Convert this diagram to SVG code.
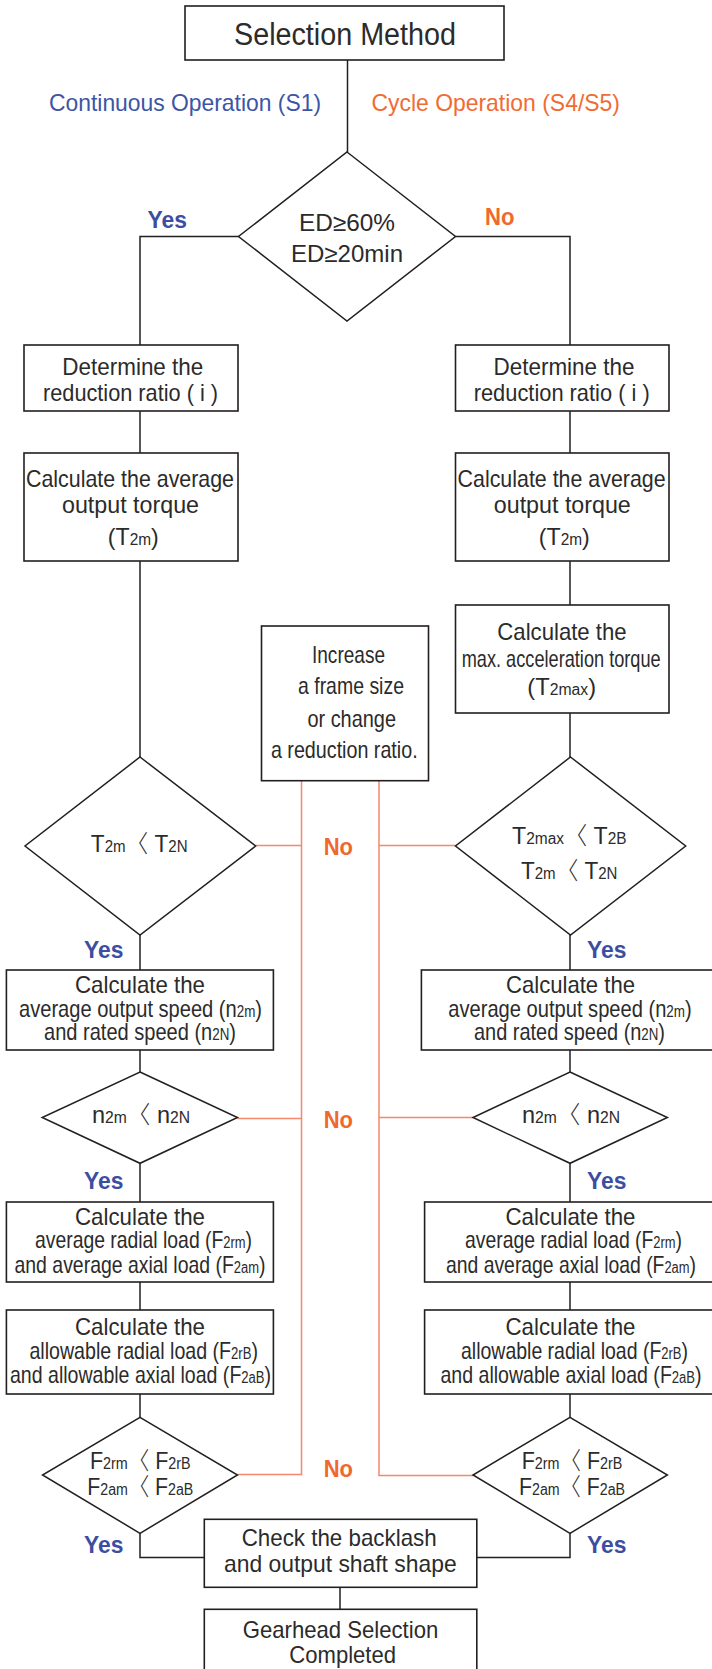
<svg xmlns="http://www.w3.org/2000/svg" width="712" height="1669" viewBox="0 0 712 1669">
<style>
.bg{fill:#ffffff}
.box{fill:#ffffff;stroke:#231f20;stroke-width:1.6}
.dia{fill:#ffffff;stroke:#231f20;stroke-width:1.5}
.ln{fill:none;stroke:#231f20;stroke-width:1.5}
.or{fill:none;stroke:#f4896c;stroke-width:1.5}
.t{font-family:"Liberation Sans",Arial,sans-serif;font-size:24px;fill:#2b2b2b;text-anchor:middle}
.s{font-size:16px}
.br{font-family:"Noto Sans CJK KR","Liberation Sans",sans-serif;font-weight:300}
.yes{font-family:"Liberation Sans",Arial,sans-serif;font-weight:bold;font-size:23px;fill:#3b4ea1;text-anchor:middle}
.no{font-family:"Liberation Sans",Arial,sans-serif;font-weight:bold;font-size:23px;fill:#ef692d;text-anchor:middle}
.hb{font-family:"Liberation Sans",Arial,sans-serif;font-size:24px;fill:#3d55a5;text-anchor:middle}
.ho{font-family:"Liberation Sans",Arial,sans-serif;font-size:24px;fill:#f06c33;text-anchor:middle}
</style>
<rect class="bg" x="0" y="0" width="712" height="1669"/>

<g id="connectors">
  <polyline class="ln" points="347.5,60 347.5,152"/>
  <polyline class="ln" points="238.5,236.5 140,236.5 140,345"/>
  <polyline class="ln" points="455.5,236.5 570,236.5 570,345"/>
  <polyline class="ln" points="140,411 140,453"/>
  <polyline class="ln" points="140,561 140,757"/>
  <polyline class="ln" points="140,935 140,970"/>
  <polyline class="ln" points="140,1050 140,1072"/>
  <polyline class="ln" points="140,1163 140,1202"/>
  <polyline class="ln" points="140,1282 140,1310"/>
  <polyline class="ln" points="140,1394 140,1417"/>
  <polyline class="ln" points="140,1533 140,1557.5 204.3,1557.5"/>
  <polyline class="ln" points="570,411 570,453"/>
  <polyline class="ln" points="570,561 570,605"/>
  <polyline class="ln" points="570,713 570,757"/>
  <polyline class="ln" points="570,935 570,970"/>
  <polyline class="ln" points="570,1050 570,1072"/>
  <polyline class="ln" points="570,1163 570,1202"/>
  <polyline class="ln" points="570,1282 570,1310"/>
  <polyline class="ln" points="570,1394 570,1417"/>
  <polyline class="ln" points="570,1533 570,1557.5 476.8,1557.5"/>
  <polyline class="ln" points="340,1587.3 340,1609.3"/>
  <polyline class="or" points="301.5,780.7 301.5,1474.5 237.5,1474.5"/>
  <polyline class="or" points="255.6,845.5 301.5,845.5"/>
  <polyline class="or" points="237.5,1118.5 301.5,1118.5"/>
  <polyline class="or" points="379,780.7 379,1475.5 473,1475.5"/>
  <polyline class="or" points="379,845.5 455.5,845.5"/>
  <polyline class="or" points="379,1117.5 473,1117.5"/>
</g>

<g id="title">
  <rect class="box" x="185" y="6" width="319" height="54"/>
  <text class="t" x="345" y="45" textLength="222" lengthAdjust="spacingAndGlyphs" style="font-size:31px">Selection Method</text>
</g>
<g id="header-continuous"><text class="hb" x="185" y="111" textLength="272" lengthAdjust="spacingAndGlyphs">Continuous Operation (S1)</text></g>
<g id="header-cycle"><text class="ho" x="495.7" y="111" textLength="248.5" lengthAdjust="spacingAndGlyphs">Cycle Operation (S4/S5)</text></g>

<g id="d-ed">
  <polygon class="dia" points="347,152 455.5,236.5 347,321 238.5,236.5"/>
  <text class="t" x="347" y="230.7" textLength="96" lengthAdjust="spacingAndGlyphs">ED≥60%</text>
  <text class="t" x="347" y="262" textLength="112" lengthAdjust="spacingAndGlyphs">ED≥20min</text>
</g>
<g id="lbl-yes-1"><text class="yes" x="167.3" y="228" textLength="39.4" lengthAdjust="spacingAndGlyphs">Yes</text></g>
<g id="lbl-no-1"><text class="no" x="499.7" y="225" textLength="29.5" lengthAdjust="spacingAndGlyphs">No</text></g>

<g id="l-ratio">
  <rect class="box" x="24" y="345" width="214" height="66"/>
  <text class="t" x="132.8" y="375" textLength="141" lengthAdjust="spacingAndGlyphs">Determine the</text>
  <text class="t" x="130.5" y="401" textLength="175" lengthAdjust="spacingAndGlyphs">reduction ratio ( i )</text>
</g>
<g id="r-ratio">
  <rect class="box" x="455.5" y="345" width="213.5" height="66"/>
  <text class="t" x="564" y="375" textLength="141" lengthAdjust="spacingAndGlyphs">Determine the</text>
  <text class="t" x="561.7" y="401" textLength="176" lengthAdjust="spacingAndGlyphs">reduction ratio ( i )</text>
</g>
<g id="l-torque">
  <rect class="box" x="24" y="453" width="214" height="108"/>
  <text class="t" x="130" y="486.7" textLength="208" lengthAdjust="spacingAndGlyphs">Calculate the average</text>
  <text class="t" x="130.5" y="513" textLength="137" lengthAdjust="spacingAndGlyphs">output torque</text>
  <text class="t" x="133.3" y="545" textLength="51" lengthAdjust="spacingAndGlyphs">(T<tspan class="s">2m</tspan>)</text>
</g>
<g id="r-torque">
  <rect class="box" x="455.5" y="453" width="213.5" height="108"/>
  <text class="t" x="561.6" y="486.7" textLength="208" lengthAdjust="spacingAndGlyphs">Calculate the average</text>
  <text class="t" x="562.3" y="513" textLength="137" lengthAdjust="spacingAndGlyphs">output torque</text>
  <text class="t" x="564.3" y="545" textLength="51" lengthAdjust="spacingAndGlyphs">(T<tspan class="s">2m</tspan>)</text>
</g>
<g id="r-max">
  <rect class="box" x="455.5" y="605" width="213.5" height="108"/>
  <text class="t" x="562" y="640" textLength="129.3" lengthAdjust="spacingAndGlyphs">Calculate the</text>
  <text class="t" x="561.2" y="667.3" textLength="199" lengthAdjust="spacingAndGlyphs">max. acceleration torque</text>
  <text class="t" x="561.7" y="695" textLength="68.7" lengthAdjust="spacingAndGlyphs">(T<tspan class="s">2max</tspan>)</text>
</g>
<g id="increase">
  <rect class="box" x="261.5" y="626" width="167" height="154.7"/>
  <text class="t" x="348.5" y="662.7" textLength="73" lengthAdjust="spacingAndGlyphs">Increase</text>
  <text class="t" x="351" y="694" textLength="106" lengthAdjust="spacingAndGlyphs">a frame size</text>
  <text class="t" x="351.7" y="726.7" textLength="88.6" lengthAdjust="spacingAndGlyphs">or change</text>
  <text class="t" x="344.3" y="758" textLength="146.7" lengthAdjust="spacingAndGlyphs">a reduction ratio.</text>
</g>

<g id="l-d-torque">
  <polygon class="dia" points="140,757 255.6,846 140,935 25,846"/>
  <text class="t" x="139.2" y="851.7" textLength="96.7" lengthAdjust="spacingAndGlyphs">T<tspan class="s">2m</tspan><tspan class="br">〈</tspan> T<tspan class="s">2N</tspan></text>
</g>
<g id="r-d-torque">
  <polygon class="dia" points="570.5,757 685.7,846 570.5,935 455.5,846"/>
  <text class="t" x="569.3" y="844" textLength="114.5" lengthAdjust="spacingAndGlyphs">T<tspan class="s">2max</tspan><tspan class="br">〈</tspan> T<tspan class="s">2B</tspan></text>
  <text class="t" x="569.2" y="879" textLength="96.4" lengthAdjust="spacingAndGlyphs">T<tspan class="s">2m</tspan><tspan class="br">〈</tspan> T<tspan class="s">2N</tspan></text>
</g>
<g id="lbl-no-2"><text class="no" x="338.4" y="855" textLength="29.3" lengthAdjust="spacingAndGlyphs">No</text></g>
<g id="lbl-yes-2l"><text class="yes" x="103.8" y="958" textLength="39.4" lengthAdjust="spacingAndGlyphs">Yes</text></g>
<g id="lbl-yes-2r"><text class="yes" x="606.8" y="958" textLength="39.4" lengthAdjust="spacingAndGlyphs">Yes</text></g>

<g id="l-speed">
  <rect class="box" x="6.4" y="970" width="267" height="80"/>
  <text class="t" x="140" y="993" textLength="130" lengthAdjust="spacingAndGlyphs">Calculate the</text>
  <text class="t" x="140.5" y="1016.7" textLength="243" lengthAdjust="spacingAndGlyphs">average output speed (n<tspan class="s">2m</tspan>)</text>
  <text class="t" x="140" y="1040" textLength="192" lengthAdjust="spacingAndGlyphs">and rated speed (n<tspan class="s">2N</tspan>)</text>
</g>
<g id="r-speed">
  <rect class="box" x="421.4" y="970" width="300" height="80"/>
  <text class="t" x="570.5" y="993" textLength="129" lengthAdjust="spacingAndGlyphs">Calculate the</text>
  <text class="t" x="570" y="1016.7" textLength="243.4" lengthAdjust="spacingAndGlyphs">average output speed (n<tspan class="s">2m</tspan>)</text>
  <text class="t" x="569.5" y="1040" textLength="191" lengthAdjust="spacingAndGlyphs">and rated speed (n<tspan class="s">2N</tspan>)</text>
</g>

<g id="l-d-speed">
  <polygon class="dia" points="140,1072 237.5,1117.5 140,1163.3 42.2,1117.5"/>
  <text class="t" x="141" y="1123.3" textLength="98" lengthAdjust="spacingAndGlyphs">n<tspan class="s">2m</tspan><tspan class="br">〈</tspan> n<tspan class="s">2N</tspan></text>
</g>
<g id="r-d-speed">
  <polygon class="dia" points="570,1072 667.4,1117.5 570,1163.3 473,1117.5"/>
  <text class="t" x="571" y="1123.3" textLength="98" lengthAdjust="spacingAndGlyphs">n<tspan class="s">2m</tspan><tspan class="br">〈</tspan> n<tspan class="s">2N</tspan></text>
</g>
<g id="lbl-no-3"><text class="no" x="338.4" y="1128.3" textLength="29.3" lengthAdjust="spacingAndGlyphs">No</text></g>
<g id="lbl-yes-3l"><text class="yes" x="103.8" y="1189.3" textLength="39.4" lengthAdjust="spacingAndGlyphs">Yes</text></g>
<g id="lbl-yes-3r"><text class="yes" x="606.8" y="1189.3" textLength="39.4" lengthAdjust="spacingAndGlyphs">Yes</text></g>

<g id="l-avgload">
  <rect class="box" x="6.4" y="1202" width="267" height="80"/>
  <text class="t" x="140" y="1225" textLength="130" lengthAdjust="spacingAndGlyphs">Calculate the</text>
  <text class="t" x="143.5" y="1248" textLength="217" lengthAdjust="spacingAndGlyphs">average radial load (F<tspan class="s">2rm</tspan>)</text>
  <text class="t" x="140" y="1272.7" textLength="251" lengthAdjust="spacingAndGlyphs">and average axial load (F<tspan class="s">2am</tspan>)</text>
</g>
<g id="r-avgload">
  <rect class="box" x="424.6" y="1202" width="300" height="80"/>
  <text class="t" x="570.5" y="1225" textLength="130" lengthAdjust="spacingAndGlyphs">Calculate the</text>
  <text class="t" x="573.5" y="1248" textLength="217" lengthAdjust="spacingAndGlyphs">average radial load (F<tspan class="s">2rm</tspan>)</text>
  <text class="t" x="571" y="1272.7" textLength="250" lengthAdjust="spacingAndGlyphs">and average axial load (F<tspan class="s">2am</tspan>)</text>
</g>

<g id="l-allow">
  <rect class="box" x="6.4" y="1310" width="267" height="84"/>
  <text class="t" x="140" y="1335" textLength="130" lengthAdjust="spacingAndGlyphs">Calculate the</text>
  <text class="t" x="143.7" y="1359" textLength="228.5" lengthAdjust="spacingAndGlyphs">allowable radial load (F<tspan class="s">2rB</tspan>)</text>
  <text class="t" x="140.5" y="1382.7" textLength="261" lengthAdjust="spacingAndGlyphs">and allowable axial load (F<tspan class="s">2aB</tspan>)</text>
</g>
<g id="r-allow">
  <rect class="box" x="424.6" y="1310" width="300" height="84"/>
  <text class="t" x="570.5" y="1335" textLength="130" lengthAdjust="spacingAndGlyphs">Calculate the</text>
  <text class="t" x="574.5" y="1359" textLength="227" lengthAdjust="spacingAndGlyphs">allowable radial load (F<tspan class="s">2rB</tspan>)</text>
  <text class="t" x="571" y="1382.7" textLength="261" lengthAdjust="spacingAndGlyphs">and allowable axial load (F<tspan class="s">2aB</tspan>)</text>
</g>

<g id="l-d-load">
  <polygon class="dia" points="140,1417.3 237.5,1475 140,1533.3 42.5,1475"/>
  <text class="t" x="140.3" y="1469" textLength="100.7" lengthAdjust="spacingAndGlyphs">F<tspan class="s">2rm</tspan><tspan class="br">〈</tspan> F<tspan class="s">2rB</tspan></text>
  <text class="t" x="140.3" y="1495" textLength="106" lengthAdjust="spacingAndGlyphs">F<tspan class="s">2am</tspan><tspan class="br">〈</tspan> F<tspan class="s">2aB</tspan></text>
</g>
<g id="r-d-load">
  <polygon class="dia" points="570,1417.3 667.4,1475 570,1533.3 473,1475"/>
  <text class="t" x="572" y="1469" textLength="100.7" lengthAdjust="spacingAndGlyphs">F<tspan class="s">2rm</tspan><tspan class="br">〈</tspan> F<tspan class="s">2rB</tspan></text>
  <text class="t" x="572" y="1495" textLength="106" lengthAdjust="spacingAndGlyphs">F<tspan class="s">2am</tspan><tspan class="br">〈</tspan> F<tspan class="s">2aB</tspan></text>
</g>
<g id="lbl-no-4"><text class="no" x="338.4" y="1476.7" textLength="29.3" lengthAdjust="spacingAndGlyphs">No</text></g>
<g id="lbl-yes-4l"><text class="yes" x="103.8" y="1553.3" textLength="39.4" lengthAdjust="spacingAndGlyphs">Yes</text></g>
<g id="lbl-yes-4r"><text class="yes" x="606.8" y="1553.3" textLength="39.4" lengthAdjust="spacingAndGlyphs">Yes</text></g>

<g id="check">
  <rect class="box" x="204.3" y="1519.3" width="272.5" height="68"/>
  <text class="t" x="339.2" y="1545.7" textLength="195" lengthAdjust="spacingAndGlyphs">Check the backlash</text>
  <text class="t" x="340.3" y="1571.7" textLength="232.7" lengthAdjust="spacingAndGlyphs">and output shaft shape</text>
</g>
<g id="completed">
  <rect class="box" x="204.3" y="1609.3" width="272.5" height="80"/>
  <text class="t" x="340.5" y="1637.7" textLength="195.6" lengthAdjust="spacingAndGlyphs">Gearhead Selection</text>
  <text class="t" x="342.7" y="1663.3" textLength="106.7" lengthAdjust="spacingAndGlyphs">Completed</text>
</g>
</svg>
